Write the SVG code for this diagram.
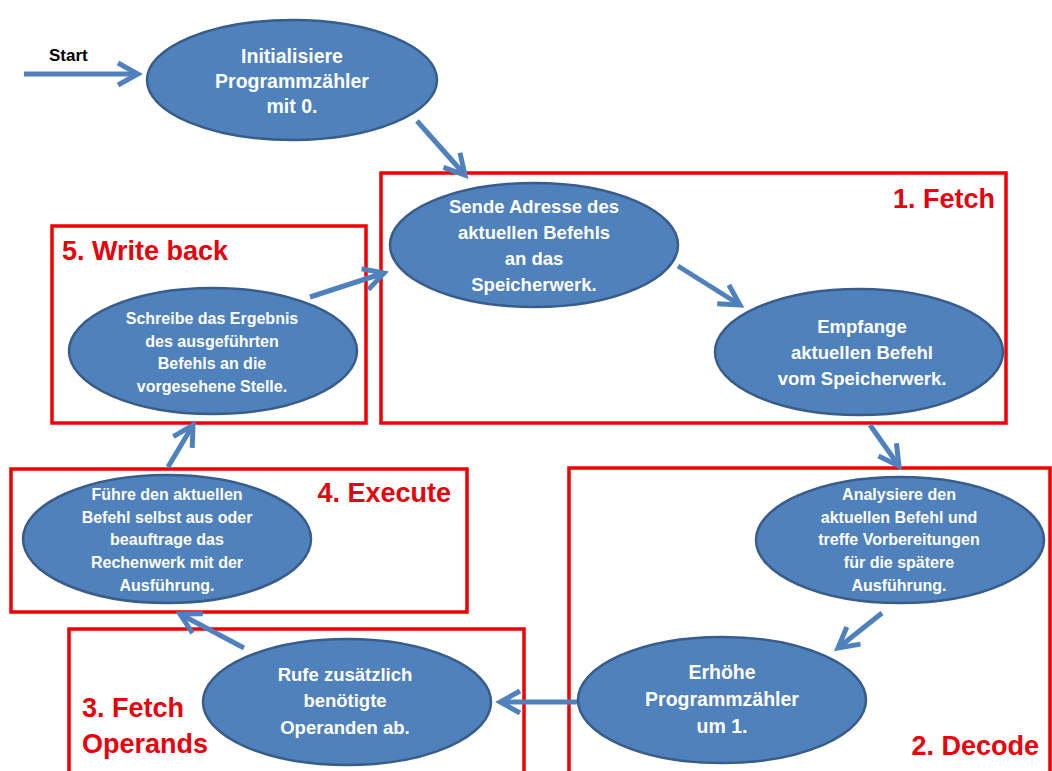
<svg xmlns="http://www.w3.org/2000/svg" width="1052" height="771" viewBox="0 0 1052 771">
<style>
.bg{fill:#ffffff}
.box{fill:none;stroke:#f00000;stroke-width:3.5}
.lbl{font-family:"Liberation Sans",Arial,sans-serif;font-weight:bold;font-size:27px;fill:#e8000b}
.node{fill:#4f81bd;stroke:#385d8a;stroke-width:2.5}
.t{font-family:"Liberation Sans",Arial,sans-serif;font-weight:bold;fill:#ffffff;text-anchor:middle}
.big{font-size:18.5px}
.small{font-size:16px}
.conn{stroke:#4f81bd;stroke-width:5;fill:none;marker-end:url(#arr)}
.start{font-family:"Liberation Sans",Arial,sans-serif;font-weight:bold;font-size:17px;fill:#000000}
</style>
<defs>
<marker id="arr" viewBox="0 0 30 30" markerWidth="30" markerHeight="30" markerUnits="userSpaceOnUse" refX="25" refY="15" orient="auto">
<path d="M5,4 L25,15 L5,26" fill="none" stroke="#4f81bd" stroke-width="5"/>
</marker>
</defs>
<rect class="bg" x="0" y="0" width="1052" height="771"/>

<g id="phases">
<g id="phase-fetch"><rect class="box" x="381" y="173" width="625" height="250"/><text class="lbl" x="995" y="208" text-anchor="end">1. Fetch</text></g>
<g id="phase-writeback"><rect class="box" x="52" y="226" width="314" height="197"/><text class="lbl" x="62" y="260">5. Write back</text></g>
<g id="phase-execute"><rect class="box" x="11" y="469" width="456" height="143"/><text class="lbl" x="451" y="502" text-anchor="end">4. Execute</text></g>
<g id="phase-decode"><rect class="box" x="569" y="468" width="481" height="310"/><text class="lbl" x="1039" y="755" text-anchor="end">2. Decode</text></g>
<g id="phase-operands"><rect class="box" x="69" y="629" width="455" height="150"/><text class="lbl" x="82" y="717">3. Fetch</text><text class="lbl" x="82" y="753">Operands</text></g>
</g>

<g id="connectors">
<line class="conn" x1="24" y1="74" x2="138" y2="74"/>
<line class="conn" x1="417" y1="121" x2="465" y2="175"/>
<line class="conn" x1="678" y1="266" x2="740" y2="305"/>
<line class="conn" x1="870" y1="425" x2="899" y2="466"/>
<line class="conn" x1="882" y1="613" x2="838" y2="648"/>
<line class="conn" x1="577" y1="702" x2="500" y2="702"/>
<line class="conn" x1="244" y1="648" x2="180" y2="614"/>
<line class="conn" x1="168" y1="467" x2="193" y2="425"/>
<line class="conn" x1="310" y1="297" x2="384" y2="273"/>
</g>

<text id="start-label" class="start" x="49" y="61">Start</text>

<g id="n-init"><ellipse class="node" cx="292" cy="80" rx="145" ry="60"/>
<text class="t" font-size="19.5"><tspan x="292" y="63">Initialisiere</tspan><tspan x="292" y="88">Programmzähler</tspan><tspan x="292" y="113">mit 0.</tspan></text></g>

<g id="n-sende"><ellipse class="node" cx="534" cy="245" rx="144" ry="62"/>
<text class="t big"><tspan x="534" y="213">Sende Adresse des</tspan><tspan x="534" y="239">aktuellen Befehls</tspan><tspan x="534" y="265">an das</tspan><tspan x="534" y="291">Speicherwerk.</tspan></text></g>

<g id="n-empfange"><ellipse class="node" cx="859" cy="352" rx="144" ry="63"/>
<text class="t big"><tspan x="862" y="333">Empfange</tspan><tspan x="862" y="359">aktuellen Befehl</tspan><tspan x="862" y="385">vom Speicherwerk.</tspan></text></g>

<g id="n-analysiere"><ellipse class="node" cx="900" cy="540" rx="144" ry="63"/>
<text class="t small"><tspan x="899" y="500">Analysiere den</tspan><tspan x="899" y="523">aktuellen Befehl und</tspan><tspan x="899" y="545">treffe Vorbereitungen</tspan><tspan x="899" y="568">für die spätere</tspan><tspan x="899" y="591">Ausführung.</tspan></text></g>

<g id="n-erhoehe"><ellipse class="node" cx="722" cy="700" rx="144" ry="63"/>
<text class="t" font-size="19.5"><tspan x="722" y="679">Erhöhe</tspan><tspan x="722" y="706">Programmzähler</tspan><tspan x="722" y="733">um 1.</tspan></text></g>

<g id="n-rufe"><ellipse class="node" cx="347" cy="702" rx="144" ry="63"/>
<text class="t big"><tspan x="345" y="681">Rufe zusätzlich</tspan><tspan x="345" y="707">benötigte</tspan><tspan x="345" y="734">Operanden ab.</tspan></text></g>

<g id="n-fuehre"><ellipse class="node" cx="167" cy="539" rx="144" ry="64"/>
<text class="t small"><tspan x="167" y="500">Führe den aktuellen</tspan><tspan x="167" y="523">Befehl selbst aus oder</tspan><tspan x="167" y="545">beauftrage das</tspan><tspan x="167" y="568">Rechenwerk mit der</tspan><tspan x="167" y="591">Ausführung.</tspan></text></g>

<g id="n-schreibe"><ellipse class="node" cx="213" cy="351" rx="144" ry="63"/>
<text class="t small"><tspan x="212" y="324">Schreibe das Ergebnis</tspan><tspan x="212" y="347">des ausgeführten</tspan><tspan x="212" y="369">Befehls an die</tspan><tspan x="212" y="392">vorgesehene Stelle.</tspan></text></g>
</svg>
